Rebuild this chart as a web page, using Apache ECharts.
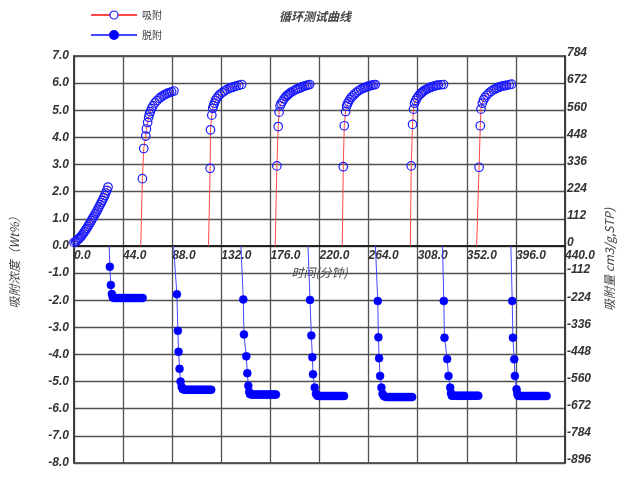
<!DOCTYPE html>
<html>
<head>
<meta charset="utf-8">
<script src="https://cdn.jsdelivr.net/npm/echarts@6/dist/echarts.min.js"></script>
<style>html,body{margin:0;padding:0;background:#fff;}#c{width:622px;height:478px;}</style>
</head>
<body>
<div id="c"></div>
<script>
const titleText = '循环测试曲线';
const xName = '时间(分钟)';
const yLeftName = '吸附浓度（Wt%）';
const yRightName = '吸附量 cm3/g,STP)';
const adsName = '吸附';
const desName = '脱附';
const xTicks = [0, 44, 88, 132, 176, 220, 264, 308, 352, 396, 440];
const yLeftTicks = [-8, -7, -6, -5, -4, -3, -2, -1, 0, 1, 2, 3, 4, 5, 6, 7];
const yRightTicks = [-896, -784, -672, -560, -448, -336, -224, -112, 0, 112, 224, 336, 448, 560, 672, 784];

// adsorption cycles [time(min), wt%]
const ads1 = [[0,0.13],[1.5,0.15],[2.5,0.19],[3.5,0.23],[4.5,0.27],[5.5,0.31],[6.5,0.36],[7.5,0.41],[8.5,0.47],[9.5,0.53],[10.5,0.59],[11.5,0.65],[12.5,0.72],[13.5,0.79],[14.5,0.86],[15.5,0.93],[16.5,1.00],[17.5,1.07],[18.5,1.14],[19.5,1.21],[20.5,1.28],[21.5,1.36],[22.5,1.44],[23.5,1.52],[24.5,1.60],[25.5,1.68],[26.5,1.77],[27.5,1.86],[28.5,1.95],[29.5,2.05],[30.5,2.17]];
const ads2 = [[59.8,0],[61.3,2.48],[62.5,3.59],[64.3,4.05],[64.9,4.31],[66.0,4.55],[66.9,4.74],[67.6,4.86],[68.4,4.95],[69.5,5.06],[70.8,5.16],[72.5,5.27],[74.4,5.36],[76.5,5.44],[78.0,5.49],[79.7,5.53],[81.0,5.57],[82.5,5.60],[84.0,5.63],[85.7,5.65],[87.5,5.68],[89.5,5.71]];
const ads3 = [[120.5,0],[122.0,2.86],[122.3,4.28],[123.5,4.82],[124.3,5.07],[125.0,5.17],[125.8,5.26],[126.8,5.36],[127.9,5.44],[129.3,5.52],[130.9,5.59],[132.8,5.65],[134.8,5.71],[137.0,5.76],[139.2,5.81],[140.6,5.83],[142.0,5.85],[143.6,5.87],[145.2,5.89],[147.7,5.92],[150.2,5.95]];
const ads4 = [[180.3,0],[181.8,2.95],[183.0,4.40],[183.8,4.93],[184.7,5.16],[185.6,5.25],[186.8,5.32],[188.2,5.42],[189.8,5.50],[191.0,5.55],[192.0,5.58],[193.2,5.62],[194.3,5.66],[196.5,5.71],[198.7,5.76],[200.2,5.79],[201.7,5.81],[203.2,5.84],[204.7,5.86],[206.3,5.89],[208.0,5.91],[209.6,5.93],[211.2,5.95]];
const ads5 = [[240.4,0],[241.3,2.92],[242.2,4.43],[243.4,4.95],[244.3,5.15],[245.1,5.24],[246.0,5.31],[247.2,5.40],[248.5,5.47],[250.0,5.54],[251.5,5.60],[253.2,5.66],[255.0,5.72],[257.0,5.77],[259.0,5.81],[260.2,5.83],[261.5,5.85],[262.8,5.87],[264.0,5.89],[265.5,5.91],[267.0,5.92],[268.5,5.94],[270.0,5.95]];
const ads6 = [[301.4,0],[302.2,2.95],[303.4,4.48],[304.3,5.04],[305.2,5.26],[306.2,5.36],[307.3,5.44],[308.7,5.53],[310.3,5.60],[311.4,5.64],[312.5,5.68],[313.6,5.72],[314.8,5.75],[316.2,5.78],[317.7,5.81],[319.2,5.84],[320.7,5.86],[322.1,5.88],[323.6,5.90],[325.1,5.92],[326.6,5.93],[329.0,5.94],[331.1,5.95]];
const ads7 = [[360.8,0],[363.0,2.90],[364.1,4.43],[364.7,5.04],[365.9,5.26],[367.0,5.38],[368.3,5.47],[370.0,5.56],[371.9,5.63],[373.8,5.70],[375.7,5.75],[377.2,5.78],[378.7,5.81],[380.2,5.84],[381.7,5.86],[383.2,5.88],[384.7,5.90],[386.2,5.91],[387.6,5.92],[390.0,5.94],[392.1,5.96]];

// desorption cycles [time(min), wt%]
const des1 = [[31.5,0],[32.1,-0.77],[33.0,-1.44],[33.9,-1.77],[34.8,-1.90],[36.0,-1.92],[37.5,-1.92],[39.0,-1.92],[40.5,-1.92],[42.0,-1.92],[43.5,-1.92],[45.0,-1.92],[46.5,-1.92],[48.0,-1.92],[49.5,-1.92],[51.0,-1.92],[52.5,-1.92],[54.0,-1.92],[55.5,-1.92],[57.0,-1.92],[58.5,-1.92],[60.0,-1.92],[61.5,-1.92]];
const des2 = [[89.2,0],[92.2,-1.78],[93.1,-3.13],[93.7,-3.90],[94.6,-4.53],[95.5,-5.00],[96.5,-5.20],[97.5,-5.28],[99.0,-5.30],[100.5,-5.30],[102.0,-5.30],[103.5,-5.30],[105.0,-5.30],[106.5,-5.30],[108.0,-5.30],[109.5,-5.30],[111.0,-5.30],[112.5,-5.30],[114.0,-5.30],[115.5,-5.30],[117.0,-5.30],[118.5,-5.30],[120.0,-5.30],[121.5,-5.30],[123.0,-5.30]];
const des3 = [[149.6,0],[151.7,-1.97],[152.3,-3.26],[154.4,-4.07],[155.3,-4.69],[156.2,-5.15],[157.0,-5.38],[157.7,-5.46],[159.0,-5.48],[160.5,-5.48],[162.0,-5.48],[163.5,-5.48],[165.0,-5.48],[166.5,-5.48],[168.0,-5.48],[169.5,-5.48],[171.0,-5.48],[172.5,-5.48],[174.0,-5.48],[175.5,-5.48],[177.0,-5.48],[178.5,-5.48],[180.0,-5.48],[181.0,-5.48]];
const des4 = [[209.7,0],[211.5,-1.99],[212.7,-3.30],[213.6,-4.10],[214.2,-4.73],[215.7,-5.22],[216.8,-5.45],[218.0,-5.52],[219.5,-5.53],[221.0,-5.53],[222.5,-5.53],[224.0,-5.53],[225.5,-5.53],[227.0,-5.53],[228.5,-5.53],[230.0,-5.53],[231.5,-5.53],[233.0,-5.53],[234.5,-5.53],[236.0,-5.53],[237.5,-5.53],[239.0,-5.53],[240.5,-5.53],[242.0,-5.53]];
const des5 = [[270.1,0],[272.2,-2.03],[272.8,-3.37],[273.4,-4.14],[274.3,-4.79],[275.5,-5.22],[276.5,-5.45],[277.6,-5.53],[279.0,-5.56],[280.5,-5.57],[282.0,-5.57],[283.5,-5.57],[285.0,-5.57],[286.5,-5.57],[288.0,-5.57],[289.5,-5.57],[291.0,-5.57],[292.5,-5.57],[294.0,-5.57],[295.5,-5.57],[297.0,-5.57],[298.5,-5.57],[300.0,-5.57],[301.5,-5.57],[303.0,-5.57]];
const des6 = [[330.2,0],[331.4,-2.03],[332.0,-3.38],[334.4,-4.17],[335.6,-4.79],[337.1,-5.22],[337.8,-5.42],[338.5,-5.52],[340.0,-5.52],[341.5,-5.52],[343.0,-5.52],[344.5,-5.52],[346.0,-5.52],[347.5,-5.52],[349.0,-5.52],[350.5,-5.52],[352.0,-5.52],[353.5,-5.52],[355.0,-5.52],[356.5,-5.52],[358.0,-5.52],[359.5,-5.52],[361.0,-5.52],[362.3,-5.52]];
const des7 = [[391.5,0],[392.7,-2.03],[393.3,-3.38],[394.5,-4.18],[395.1,-4.79],[396.6,-5.28],[397.3,-5.45],[398.0,-5.52],[399.5,-5.53],[401.0,-5.53],[402.5,-5.53],[404.0,-5.53],[405.5,-5.53],[407.0,-5.53],[408.5,-5.53],[410.0,-5.53],[411.5,-5.53],[413.0,-5.53],[414.5,-5.53],[416.0,-5.53],[417.5,-5.53],[419.0,-5.53],[420.5,-5.53],[422.0,-5.53],[423.5,-5.53]];

const adsCycles = [ads1, ads2, ads3, ads4, ads5, ads6, ads7];
const desCycles = [des1, des2, des3, des4, des5, des6, des7];

const RED = '#ff4a4a', BLUE_LINE = '#4646ff', BLUE = '#1a1aff';
const labelFont = { fontFamily: 'Liberation Sans, Arial, sans-serif', fontStyle: 'italic', fontWeight: 'bold', fontSize: 12, color: '#333' };

function prep(cycle) {
  return cycle.map((p, i) => (i === 0 && p[1] === 0) ? { value: p, symbol: 'none' } : { value: p });
}

const series = [];
adsCycles.forEach(c => series.push({
  name: adsName, type: 'line', data: prep(c), symbol: 'circle', symbolSize: 8.5,
  lineStyle: { color: RED, width: 1 },
  itemStyle: { color: 'rgba(255,255,255,0)', borderColor: BLUE, borderWidth: 1.2 },
  animation: false, z: 3
}));
desCycles.forEach(c => series.push({
  name: desName, type: 'line', data: prep(c), symbol: 'circle', symbolSize: 8,
  lineStyle: { color: BLUE_LINE, width: 1 },
  itemStyle: { color: '#0000ff', borderColor: '#0000ff', borderWidth: 0.5 },
  animation: false, z: 3
}));

const GRID_TOP = 56, GRID_BOTTOM = 15, H = 478;
const plotH = H - GRID_TOP - GRID_BOTTOM;
const yMin = -8, yMax = 7;
const zeroOffset = -plotH * (0 - yMin) / (yMax - yMin);

const chart = echarts.init(document.getElementById('c'));
chart.setOption({
  backgroundColor: '#fff',
  animation: false,
  title: {
    text: titleText, left: 310, top: 5, textAlign: 'center',
    textStyle: { fontFamily: 'Noto Sans CJK SC, sans-serif', fontStyle: 'italic', fontWeight: 'bold', fontSize: 12, color: '#444' }
  },
  legend: {
    orient: 'vertical', left: 85, top: 5, itemGap: 10, itemWidth: 46, itemHeight: 10,
    textStyle: { fontFamily: 'Noto Sans CJK SC, sans-serif', fontSize: 10, color: '#444' },
    data: [
      { name: adsName, itemStyle: { color: '#fff', borderColor: BLUE, borderWidth: 1.2 } },
      { name: desName }
    ]
  },
  grid: { left: 74, right: 57, top: GRID_TOP, bottom: GRID_BOTTOM, outerBoundsMode: 'none', containLabel: false, show: true, borderColor: '#333', borderWidth: 1.5 },
  xAxis: {
    type: 'value', min: 0, max: 440, interval: 44, position: 'bottom', offset: zeroOffset,
    name: xName, nameLocation: 'middle', nameGap: 20,
    nameTextStyle: { fontFamily: 'Noto Sans CJK SC, sans-serif', fontStyle: 'italic', fontSize: 12, color: '#444' },
    axisLine: { onZero: false, lineStyle: { color: '#222', width: 2 } },
    axisTick: { show: false },
    axisLabel: Object.assign({ margin: 4, align: 'left', formatter: v => v.toFixed(1) }, labelFont),
    splitLine: { show: true, lineStyle: { color: '#505050', width: 1.3 } }
  },
  yAxis: [
    {
      type: 'value', min: yMin, max: yMax, interval: 1, position: 'left',
      name: yLeftName, nameLocation: 'middle', nameGap: 54, nameRotate: 90,
      nameTextStyle: { fontFamily: 'Noto Sans CJK SC, sans-serif', fontStyle: 'italic', fontSize: 12, color: '#444' },
      axisLine: { show: true, onZero: false, lineStyle: { color: '#333', width: 1.5 } },
      axisTick: { show: false },
      axisLabel: Object.assign({ margin: 5, formatter: v => v.toFixed(1) }, labelFont),
      splitLine: { show: true, lineStyle: { color: '#505050', width: 1.3 } }
    },
    {
      type: 'value', min: -896, max: 784, interval: 112, position: 'right',
      name: yRightName, nameLocation: 'middle', nameGap: 38, nameRotate: 90,
      nameTextStyle: { fontFamily: 'Noto Sans CJK SC, sans-serif', fontStyle: 'italic', fontSize: 12, color: '#444' },
      axisLine: { show: true, onZero: false, lineStyle: { color: '#333', width: 1.5 } },
      axisTick: { show: false },
      axisLabel: Object.assign({ margin: 2, verticalAlign: 'bottom', lineHeight: 6 }, labelFont),
      splitLine: { show: false }
    }
  ],
  series: series
});
</script>
</body>
</html>
